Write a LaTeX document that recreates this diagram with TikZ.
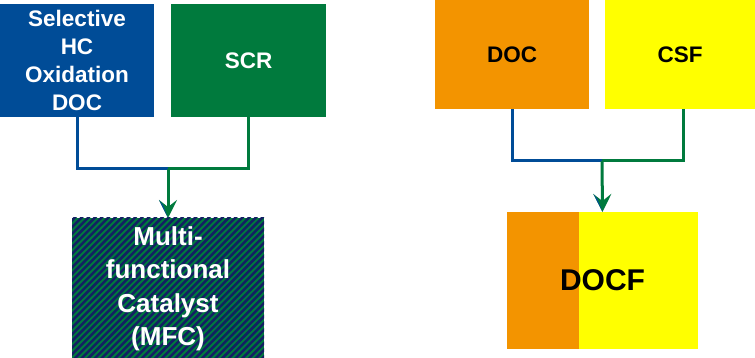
\documentclass[tikz,border=0pt]{standalone}
\usepackage{fontspec}
\setmainfont{Liberation Sans}
\usetikzlibrary{arrows.meta}
\definecolor{catblue}{RGB}{0,76,151}
\definecolor{catgreen}{RGB}{0,122,61}
\definecolor{catnavy}{RGB}{18,32,98}
\definecolor{docorange}{RGB}{243,148,0}
\definecolor{csfyellow}{RGB}{255,255,0}
\tikzset{
  box/.style={rectangle, inner sep=0pt, outer sep=0pt, draw=none, align=center},
  whitetxt/.style={text=white, font=\fontsize{22.5}{28}\selectfont\bfseries},
  blacktxt/.style={text=black, font=\fontsize{22.5}{28}\selectfont\bfseries},
  link/.style={line width=3pt},
  flow/.style={line width=3pt, catgreen, -{Stealth[length=18pt, width=18pt, inset=7pt]}},
  leftwing/.style={fill=catblue},
  stripes/.style={path picture={
    \foreach \i in {-220,-213.3,...,220}{
      \draw[catnavy, line width=2.5pt]
        ([xshift=\i pt]path picture bounding box.south west) -- ++(240pt,240pt);
    }}}
}
\begin{document}
\begin{tikzpicture}[x=1pt, y=-1pt]
  \useasboundingbox (0,0) rectangle (755,358);

  % left: separate catalysts combined into one
  \node[box, whitetxt, fill=catblue, minimum width=154pt, minimum height=113pt]
    (selhc) at (77,60.5) {Selective\\HC\\Oxidation\\DOC};
  \node[box, whitetxt, fill=catgreen, minimum width=155pt, minimum height=113pt]
    (scr) at (248.5,60.5) {SCR};
  \node[box, text=white, font=\fontsize{26}{33.5}\selectfont\bfseries,
        fill=catgreen, stripes, minimum width=192pt, minimum height=142pt]
    (mfc) at (168,289) {Multi-\\functional\\Catalyst\\(MFC)};

  \coordinate (j1) at (168,169);
  \draw[link, catblue] (selhc.south) |- (j1);
  \draw[link, catgreen] ([xshift=171.5pt]selhc.south) |- (j1);
  \draw[flow] (j1) -- (mfc.north);
  \fill[leftwing] (mfc.north) -- ++(-9pt,18pt) -- ++(4pt,-5pt) -- cycle;

  % right: DOC and CSF merged into DOCF
  \node[box, blacktxt, fill=docorange, minimum width=154pt, minimum height=109pt]
    (doc) at (512,54.5) {DOC};
  \node[box, blacktxt, fill=csfyellow, minimum width=150pt, minimum height=109pt]
    (csf) at (680,54.5) {CSF};
  \node[box, text=black, font=\fontsize{30}{36}\selectfont\bfseries,
        fill=csfyellow, minimum width=191pt, minimum height=137pt,
        path picture={\fill[docorange] (path picture bounding box.south west)
          rectangle ([xshift=72pt]path picture bounding box.north west);}]
    (docf) at (602.5,280.5) {DOCF};

  \coordinate (j2) at (602,161);
  \draw[link, catblue] (doc.south) |- (j2);
  \draw[link, catgreen] ([xshift=3pt]csf.south) |- (j2);
  \draw[flow] (j2) -- (docf.north);
  \fill[leftwing] (docf.north) -- ++(-9pt,18pt) -- ++(4pt,-5pt) -- cycle;
\end{tikzpicture}
\end{document}
